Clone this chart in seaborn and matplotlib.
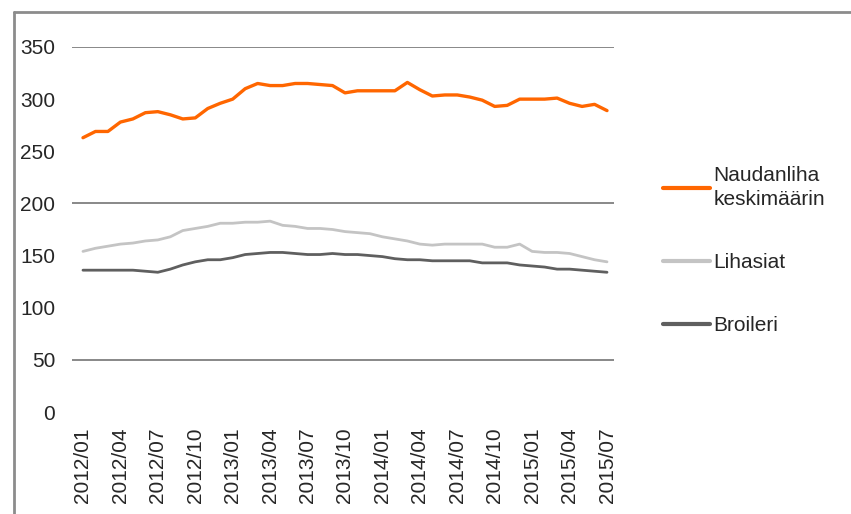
import pandas as pd
import matplotlib
matplotlib.use('Agg')
import matplotlib.pyplot as plt
import seaborn as sns
from matplotlib.lines import Line2D

# Monthly categories 2012/01 .. 2015/07
months = pd.date_range('2012-01-01', '2015-07-01', freq='MS').strftime('%Y/%m').tolist()

# Values
naudanliha = [263, 269, 269, 278, 281, 287, 288, 285, 281, 282,
              291, 296, 300, 310, 315, 313, 313, 315, 315, 314,
              313, 306, 308, 308, 308, 308, 316, 309, 303, 304,
              304, 302, 299, 293, 294, 300, 300, 300, 301, 296,
              293, 295, 289]
lihasiat = [154, 157, 159, 161, 162, 164, 165, 168, 174, 176,
            178, 181, 181, 182, 182, 183, 179, 178, 176, 176,
            175, 173, 172, 171, 168, 166, 164, 161, 160, 161,
            161, 161, 161, 158, 158, 161, 154, 153, 153, 152,
            149, 146, 144]
broileri = [136, 136, 136, 136, 136, 135, 134, 137, 141, 144,
            146, 146, 148, 151, 152, 153, 153, 152, 151, 151,
            152, 151, 151, 150, 149, 147, 146, 146, 145, 145,
            145, 145, 143, 143, 143, 141, 140, 139, 137, 137,
            136, 135, 134]

series_names = ['Naudanliha\nkeskimäärin', 'Lihasiat', 'Broileri']
colors = ['#ff6600', '#c4c4c4', '#5f5f5f']
widths = [2.4, 2.0, 2.0]

tick_labels = ['2012/01', '2012/04', '2012/07', '2012/10', '2013/01', '2013/04',
               '2013/07', '2013/10', '2014/01', '2014/04', '2014/07', '2014/10',
               '2015/01', '2015/04', '2015/07']
y_ticks = [0, 50, 100, 150, 200, 250, 300, 350]
grid_values = [50, 200, 350]

df = pd.DataFrame({'Kuukausi': months,
                   series_names[0]: naudanliha,
                   series_names[1]: lihasiat,
                   series_names[2]: broileri})
long_df = df.melt(id_vars='Kuukausi', var_name='Sarja', value_name='Hinta')
long_df['x'] = long_df['Kuukausi'].map({m: i for i, m in enumerate(months)})

sns.set_style('white')
plt.rcParams['font.family'] = ['Liberation Sans', 'DejaVu Sans']

fig = plt.figure(figsize=(8.51, 5.14), dpi=100)
ax = fig.add_axes([0.0846, 0.1984, 0.6369, 0.7102])

for val in grid_values:
    ax.axhline(val, color='#7f7f7f', lw=1.3, zorder=0)

for name, col, lw in zip(series_names, colors, widths):
    sub = long_df[long_df['Sarja'] == name]
    sns.lineplot(data=sub, x='x', y='Hinta', color=col, lw=lw, ax=ax, label=name)

ax.set_xlim(-0.88, 42.56)
ax.set_ylim(0, 350)
ax.set_yticks(y_ticks)
ax.set_yticklabels([str(v) for v in y_ticks], fontsize=15)
tick_pos = [months.index(t) for t in tick_labels]
ax.set_xticks(tick_pos)
ax.set_xticklabels(tick_labels, rotation=90, fontsize=15)
ax.tick_params(axis='x', direction='out', length=5, width=1, color='#8c8c8c', pad=6)
ax.tick_params(axis='y', length=0, pad=12)
ax.set_xlabel('')
ax.set_ylabel('')
for s in ax.spines.values():
    s.set_visible(False)

handles = [Line2D([0], [0], color=c, lw=3) for c in colors]
leg = ax.legend(handles, series_names, loc='upper left', bbox_to_anchor=(1.055, 0.725),
                frameon=False, fontsize=15, handlelength=2.3, handletextpad=0.15,
                labelspacing=2.1)
for t in leg.get_texts():
    t.set_linespacing(1.35)

# outer chart frame (left and top edges)
fig.add_artist(Line2D([14 / 851, 14 / 851], [0, 1 - 12 / 514], transform=fig.transFigure,
                      color='#8c8c8c', lw=2))
fig.add_artist(Line2D([14 / 851, 1], [1 - 12 / 514, 1 - 12 / 514], transform=fig.transFigure,
                      color='#8c8c8c', lw=2))

fig.savefig('out.png', dpi=100)
